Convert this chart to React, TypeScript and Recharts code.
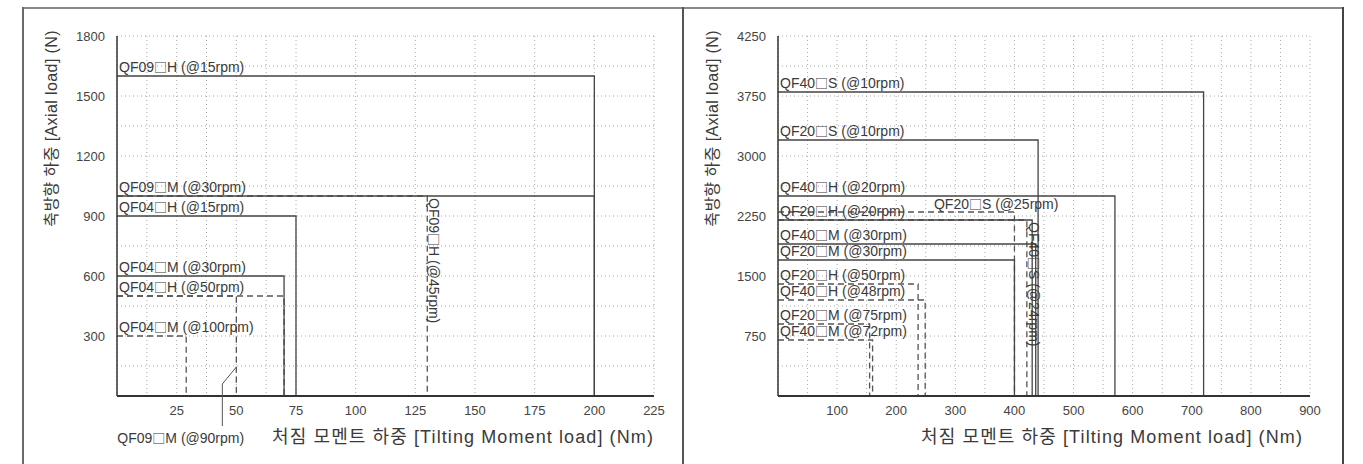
import React from 'react';
import { LineChart, Line, XAxis, YAxis, CartesianGrid, LabelList } from 'recharts';

const FONT = '"Liberation Sans", Arial, "Noto Sans CJK KR", sans-serif';

// ---------- Left chart data ----------
const leftXTicks = [25, 50, 75, 100, 125, 150, 175, 200, 225];
const leftYTicks = [300, 600, 900, 1200, 1500, 1800];
const leftNames = [
  'QF04□M (@100rpm)',
  'QF04□H (@50rpm)',
  'QF09□M (@90rpm)',
  'QF09□H (@45rpm)',
  'QF04□M (@30rpm)',
  'QF04□H (@15rpm)',
  'QF09□M (@30rpm)',
  'QF09□H (@15rpm)',
];
const leftMoment = [29, 70, 50, 130, 70, 75, 200, 200];
const leftAxial = [300, 500, 500, 1000, 600, 900, 1000, 1600];

// ---------- Right chart data ----------
const rightXTicks = [100, 200, 300, 400, 500, 600, 700, 800, 900];
const rightYTicks = [750, 1500, 2250, 3000, 3750, 4500];
const rightYTickLabels = ['750', '1500', '2250', '3000', '3750', '4250'];
const rightNames = [
  'QF40□M (@72rpm)',
  'QF20□M (@75rpm)',
  'QF40□H (@48rpm)',
  'QF20□H (@50rpm)',
  'QF40□S (@24rpm)',
  'QF20□S (@25rpm)',
  'QF20□M (@30rpm)',
  'QF40□M (@30rpm)',
  'QF20□H (@20rpm)',
  'QF40□H (@20rpm)',
  'QF20□S (@10rpm)',
  'QF40□S (@10rpm)',
];
const rightMoment = [160, 155, 249, 237, 421, 400, 400, 436, 430, 570, 440, 720];
const rightAxial = [700, 900, 1200, 1400, 2200, 2300, 1700, 1900, 2200, 2500, 3200, 3800];

// ---------- style / label placement (not data) ----------
type Mode = 'start' | 'vertical' | 'leader' | 'right';
const dashedSet = new Set([
  'QF04□M (@100rpm)', 'QF04□H (@50rpm)', 'QF09□M (@90rpm)', 'QF09□H (@45rpm)',
  'QF40□M (@72rpm)', 'QF20□M (@75rpm)', 'QF40□H (@48rpm)', 'QF20□H (@50rpm)',
  'QF40□S (@24rpm)', 'QF20□S (@25rpm)',
]);
const labelMode: Record<string, Mode> = {
  'QF09□H (@45rpm)': 'vertical',
  'QF40□S (@24rpm)': 'vertical',
  'QF09□M (@90rpm)': 'leader',
  'QF20□S (@25rpm)': 'right',
};

const labelIndex: Record<Mode, number> = { start: 0, vertical: 1, right: 1, leader: 2 };

function buildSeries(names: string[], moment: number[], axial: number[]) {
  return names.map((name, i) => {
    const mode: Mode = labelMode[name] || 'start';
    const li = labelIndex[mode];
    const pts = [
      { x: 0, y: axial[i] },
      { x: moment[i], y: axial[i] },
      { x: moment[i], y: 0 },
    ].map((p, k) => ({ ...p, lab: k === li ? name : '' }));
    return { name, mode, data: pts, dashed: dashedSet.has(name) };
  });
}

const TEXT_FILL = '#3a3a3a';

function nameSpans(v: string) {
  const parts = String(v).split('□');
  const out: React.ReactNode[] = [];
  parts.forEach((part, i) => {
    if (i > 0) {
      out.push(
        <tspan key={`b${i}`} fontFamily='"Noto Sans CJK KR"' fontSize={13}>
          □
        </tspan>
      );
    }
    out.push(<tspan key={`t${i}`}>{part}</tspan>);
  });
  return out;
}

const makeLabel = (mode: Mode) => (p: any) => {
  const v = p.value;
  if (!v) return null;
  const x = typeof p.x === 'number' ? p.x : p.viewBox?.x;
  const y = typeof p.y === 'number' ? p.y : p.viewBox?.y;
  if (typeof x !== 'number' || typeof y !== 'number') return null;
  const common = { fontSize: 14, fill: TEXT_FILL, fontFamily: FONT } as any;
  if (mode === 'vertical') {
    const ax = x + 2;
    const ay = y + 2;
    return (
      <text {...common} x={ax} y={ay} transform={`rotate(90 ${ax} ${ay})`} textAnchor="start">
        {nameSpans(v)}
      </text>
    );
  }
  if (mode === 'leader') {
    return (
      <g>
        <polyline
          points={`${x},${y - 29} ${x - 14},${y - 12} ${x - 14},${y + 30}`}
          fill="none"
          stroke="#555"
          strokeWidth={1}
        />
        <text {...common} x={x - 119} y={y + 47} textAnchor="start">
          {nameSpans(v)}
        </text>
      </g>
    );
  }
  if (mode === 'right') {
    return (
      <text {...common} x={x + 44} y={y - 3} textAnchor="end">
        {nameSpans(v)}
      </text>
    );
  }
  return (
    <text {...common} x={x + 2} y={y - 4} textAnchor="start">
      {nameSpans(v)}
    </text>
  );
};

function range(step: number, max: number) {
  const out: number[] = [];
  for (let v = 0; v <= max + 1e-9; v += step) out.push(v);
  return out;
}

type PanelProps = {
  left: number;
  width: number;
  yAxisWidth: number;
  marginRight: number;
  xDomain: [number, number];
  yDomain: [number, number];
  xTicks: number[];
  yTicks: number[];
  yTickFormatter?: (v: number, i: number) => string;
  xGrid: number[];
  yGrid: number[];
  series: ReturnType<typeof buildSeries>;
  titleRightInset: number;
};

function Panel(props: PanelProps) {
  const {
    left, width, yAxisWidth, marginRight, xDomain, yDomain, xTicks, yTicks,
    yTickFormatter, xGrid, yGrid, series, titleRightInset,
  } = props;
  const plotRight = width - marginRight;
  const yTitleX = yAxisWidth - 60;
  return (
    <div style={{ position: 'absolute', left, top: 0, width, height: 464 }}>
      <LineChart
        width={width}
        height={464}
        margin={{ top: 36, right: marginRight, bottom: 38, left: 0 }}
        style={{ fontFamily: FONT }}
      >
        <CartesianGrid
          stroke="#a8a8a8"
          strokeDasharray="1 3"
          horizontalValues={yGrid}
          verticalValues={xGrid}
        />
        <XAxis
          type="number"
          dataKey="x"
          domain={xDomain}
          ticks={xTicks}
          height={30}
          tickLine={false}
          axisLine={{ stroke: '#333', strokeWidth: 2 }}
          tick={{ fontSize: 13, fill: '#444', fontFamily: FONT }}
          tickMargin={4}
          label={() => (
            <text
              x={plotRight - titleRightInset}
              y={443}
              textAnchor="end"
              fontSize={18}
              fill="#3a3a3a"
              fontFamily={FONT}
              letterSpacing={1.1}
            >
              처짐 모멘트 하중 [Tilting Moment load] (Nm)
            </text>
          )}
        />
        <YAxis
          type="number"
          domain={yDomain}
          ticks={yTicks}
          width={yAxisWidth}
          tickLine={false}
          axisLine={{ stroke: '#333', strokeWidth: 1.5 }}
          tick={{ fontSize: 13, fill: '#444', fontFamily: FONT }}
          tickSize={6}
          tickMargin={6}
          tickFormatter={yTickFormatter}
          label={() => (
            <text
              x={yTitleX}
              y={30}
              transform={`rotate(-90 ${yTitleX} 30)`}
              textAnchor="end"
              fontSize={16}
              fill="#3a3a3a"
              fontFamily={FONT}
              letterSpacing={0.4}
            >
              축방향 하중 [Axial load] (N)
            </text>
          )}
        />
        {series.map((s) => (
          <Line
            key={s.name}
            data={s.data}
            dataKey="y"
            type="linear"
            stroke={s.dashed ? '#555' : '#444'}
            strokeWidth={1.3}
            strokeDasharray={s.dashed ? '6 4' : undefined}
            dot={false}
            activeDot={false}
            isAnimationActive={false}
          >
            <LabelList dataKey="lab" content={makeLabel(s.mode)} />
          </Line>
        ))}
      </LineChart>
    </div>
  );
}

const leftSeries = buildSeries(leftNames, leftMoment, leftAxial);
const rightSeries = buildSeries(rightNames, rightMoment, rightAxial);

export default function App() {
  return (
    <div
      style={{
        position: 'absolute',
        left: 0,
        top: 0,
        width: 1363,
        height: 464,
        background: '#fff',
        overflow: 'hidden',
      }}
    >
      <Panel
        left={0}
        width={683}
        yAxisWidth={117}
        marginRight={29}
        xDomain={[0, 225]}
        yDomain={[0, 1800]}
        xTicks={leftXTicks}
        yTicks={leftYTicks}
        xGrid={range(12.5, 225)}
        yGrid={range(150, 1800)}
        series={leftSeries}
        titleRightInset={0}
      />
      <Panel
        left={683}
        width={680}
        yAxisWidth={95}
        marginRight={53}
        xDomain={[0, 900]}
        yDomain={[0, 4500]}
        xTicks={rightXTicks}
        yTicks={rightYTicks}
        yTickFormatter={(v: number, i: number) => rightYTickLabels[i] ?? String(v)}
        xGrid={range(50, 900)}
        yGrid={range(375, 4500)}
        series={rightSeries}
        titleRightInset={7}
      />
      {/* frame */}
      <div style={{ position: 'absolute', left: 22, top: 7, width: 1322, height: 2, background: '#8a8a8a' }} />
      <div style={{ position: 'absolute', left: 22, top: 7, width: 2, height: 470, background: '#6a6a6a' }} />
      <div style={{ position: 'absolute', left: 682, top: 7, width: 2, height: 470, background: '#555' }} />
      <div style={{ position: 'absolute', left: 1342, top: 7, width: 2, height: 470, background: '#444' }} />
    </div>
  );
}
